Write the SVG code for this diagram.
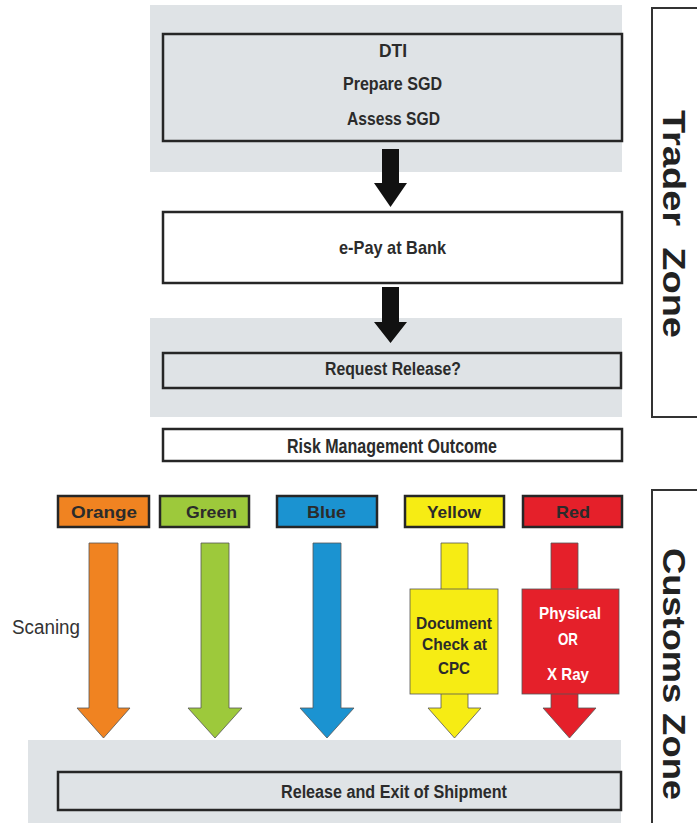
<svg xmlns="http://www.w3.org/2000/svg" width="697" height="823" viewBox="0 0 697 823">
<style>
.band{fill:#dfe3e6}
.box{stroke:#262626;stroke-width:2.5}
.t{font-family:"Liberation Sans",Arial,sans-serif;font-weight:bold;fill:#2b2b2b;text-anchor:middle}
.w{fill:#fff}
.zone{font-family:"Liberation Sans",Arial,sans-serif;font-weight:bold;fill:#222;font-size:32px;text-anchor:middle}
.brk{fill:none;stroke:#333;stroke-width:2}
.ca{stroke:#555;stroke-width:0.8}
</style>
<rect width="697" height="823" fill="#fff"/>
<g id="bands">
<rect class="band" x="150" y="5" width="472" height="167"/>
<rect class="band" x="150" y="318" width="472" height="99"/>
<rect class="band" x="28" y="740" width="593" height="83"/>
</g>
<g id="zones">
<path class="brk" d="M697 8 H652 V417 H697"/>
<text class="zone" transform="translate(663 224) rotate(90)" textLength="228" lengthAdjust="spacingAndGlyphs" xml:space="preserve">Trader  Zone</text>
<path class="brk" d="M697 490 H652 V823"/>
<text class="zone" transform="translate(663 674) rotate(90)" textLength="252" lengthAdjust="spacingAndGlyphs">Customs Zone</text>
</g>
<g id="n-dti">
<rect class="box" x="163" y="34" width="459" height="107" fill="#dfe3e6"/>
<text class="t" x="393" y="57" font-size="18" textLength="28" lengthAdjust="spacingAndGlyphs">DTI</text>
<text class="t" x="392.5" y="90" font-size="18" textLength="99" lengthAdjust="spacingAndGlyphs">Prepare SGD</text>
<text class="t" x="393.5" y="125" font-size="18" textLength="93" lengthAdjust="spacingAndGlyphs">Assess SGD</text>
</g>
<g id="n-epay">
<rect class="box" x="163" y="212" width="459" height="71" fill="#fff"/>
<text class="t" x="392.5" y="254" font-size="19" textLength="107" lengthAdjust="spacingAndGlyphs">e-Pay at Bank</text>
</g>
<g id="n-request">
<rect class="box" x="163" y="353" width="458" height="35" fill="#dfe3e6"/>
<text class="t" x="393" y="375" font-size="18" textLength="136" lengthAdjust="spacingAndGlyphs">Request Release?</text>
</g>
<g id="n-risk">
<rect class="box" x="163" y="429" width="459" height="32" fill="#fff"/>
<text class="t" x="392" y="453" font-size="20" textLength="210" lengthAdjust="spacingAndGlyphs">Risk Management Outcome</text>
</g>
<g id="n-orange">
<rect class="box" x="58" y="496" width="91" height="31" fill="#f08321"/>
<text class="t" x="104" y="518" font-size="17" textLength="66" lengthAdjust="spacingAndGlyphs">Orange</text>
</g>
<g id="n-green">
<rect class="box" x="160" y="496" width="89" height="31" fill="#9dc93b"/>
<text class="t" x="211.5" y="518" font-size="17" textLength="51" lengthAdjust="spacingAndGlyphs">Green</text>
</g>
<g id="n-blue">
<rect class="box" x="277" y="496" width="100" height="31" fill="#1b93d1"/>
<text class="t" x="326.5" y="518" font-size="17" textLength="39" lengthAdjust="spacingAndGlyphs">Blue</text>
</g>
<g id="n-yellow">
<rect class="box" x="405" y="496" width="99" height="31" fill="#f6ec14"/>
<text class="t" x="454" y="518" font-size="17" textLength="54" lengthAdjust="spacingAndGlyphs">Yellow</text>
</g>
<g id="n-red">
<rect class="box" x="523" y="496" width="99" height="31" fill="#e5202a"/>
<text class="t" x="573" y="518" font-size="17" textLength="34" lengthAdjust="spacingAndGlyphs">Red</text>
</g>
<g id="n-release">
<rect class="box" x="58" y="772" width="563" height="38" fill="#dfe3e6"/>
<text class="t" x="394" y="798" font-size="18" textLength="226" lengthAdjust="spacingAndGlyphs">Release and Exit of Shipment</text>
</g>
<g id="connectors">
<polygon fill="#111" points="382,149 399,149 399,183 407,183 390.5,207 374,183 382,183"/>
<polygon fill="#111" points="382,287 399,287 399,322 407,322 390.5,343 374,322 382,322"/>
<polygon class="ca" fill="#f08321" points="89,543 118,543 118,708 130,708 103.5,738 77,708 89,708"/>
<polygon class="ca" fill="#9dc93b" points="201,543 229,543 229,708 242,708 215,738 188,708 201,708"/>
<polygon class="ca" fill="#1b93d1" points="313,543 341,543 341,708 354,708 327,738 300,708 313,708"/>
<polygon class="ca" fill="#f6ec14" points="441,543 468,543 468,708 481,708 454.5,738 428,708 441,708"/>
<polygon class="ca" fill="#e5202a" points="551,543 578,543 578,708 596,708 569.5,738 543,708 551,708"/>
</g>
<g id="n-scan">
<text x="12" y="634" font-family="Liberation Sans,Arial,sans-serif" font-size="20" fill="#333" textLength="68" lengthAdjust="spacingAndGlyphs">Scaning</text>
</g>
<g id="n-doc">
<rect class="ca" x="410" y="589" width="88" height="105" fill="#f6ec14"/>
<text class="t" x="454" y="629" font-size="17" textLength="76" lengthAdjust="spacingAndGlyphs">Document</text>
<text class="t" x="454.5" y="650" font-size="17" textLength="65" lengthAdjust="spacingAndGlyphs">Check at</text>
<text class="t" x="454" y="674" font-size="17" textLength="32" lengthAdjust="spacingAndGlyphs">CPC</text>
</g>
<g id="n-phys">
<rect class="ca" x="522" y="589" width="97" height="105" fill="#e5202a"/>
<text class="t w" x="570" y="619" font-size="17" textLength="62" lengthAdjust="spacingAndGlyphs">Physical</text>
<text class="t w" x="568" y="645" font-size="17" textLength="20" lengthAdjust="spacingAndGlyphs">OR</text>
<text class="t w" x="568" y="680" font-size="17" textLength="42" lengthAdjust="spacingAndGlyphs">X Ray</text>
</g>
</svg>
